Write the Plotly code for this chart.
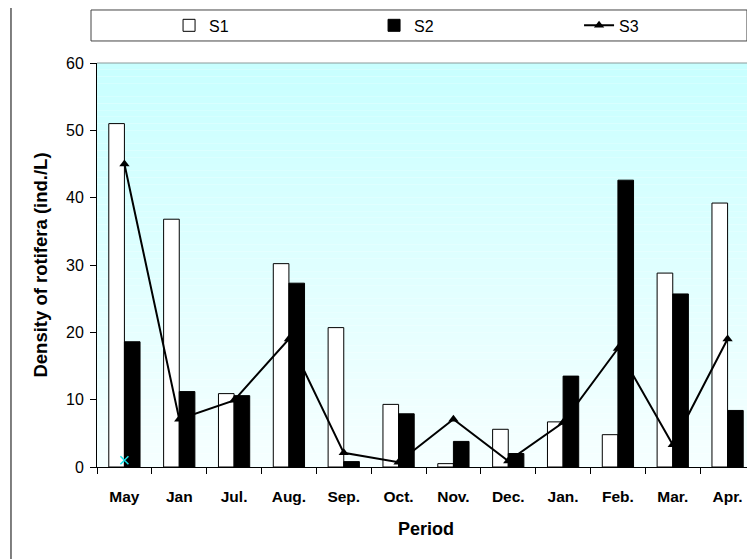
import plotly.graph_objects as go

periods = ["May", "Jan", "Jul.", "Aug.", "Sep.", "Oct.", "Nov.", "Dec.", "Jan.", "Feb.", "Mar.", "Apr."]
s1 = [51.0, 36.8, 10.9, 30.2, 20.7, 9.3, 0.5, 5.6, 6.7, 4.8, 28.8, 39.2]
s2 = [18.6, 11.2, 10.6, 27.3, 0.8, 7.9, 3.8, 2.0, 13.5, 42.6, 25.7, 8.4]
s3 = [45.0, 7.1, 9.9, 19.0, 2.1, 0.7, 7.1, 0.9, 6.6, 17.6, 3.3, 19.0]
stray_x = ["May"]
stray_y = [1.0]
y_ticks = [0, 10, 20, 30, 40, 50, 60]

FONT = "Liberation Sans, Arial, sans-serif"

fig = go.Figure()
fig.add_trace(go.Bar(name="S1", x=periods, y=s1,
                     marker=dict(color="white", line=dict(color="black", width=1))))
fig.add_trace(go.Bar(name="S2", x=periods, y=s2,
                     marker=dict(color="black", line=dict(color="black", width=1))))
fig.add_trace(go.Scatter(name="S3", x=periods, y=s3, mode="lines+markers",
                         line=dict(color="black", width=2),
                         marker=dict(symbol="triangle-up", size=9, color="black")))
fig.add_trace(go.Scatter(x=stray_x, y=stray_y, mode="markers", showlegend=False,
                         marker=dict(symbol="x-thin", size=8,
                                     line=dict(color="#19e0e8", width=1.5))))

# gradient background of the plot area
n = 60
top = (200, 255, 255)
bot = (246, 255, 255)
shapes = []
for i in range(n):
    t = i / (n - 1)
    c = tuple(round(bot[k] + (top[k] - bot[k]) * t) for k in range(3))
    shapes.append(dict(type="rect", xref="x domain", yref="y domain",
                       x0=0, x1=1, y0=i / n, y1=(i + 1) / n,
                       fillcolor="rgb(%d,%d,%d)" % c, line=dict(width=0), layer="below"))
# plot top border
shapes.append(dict(type="line", xref="x domain", yref="y domain", x0=0, x1=1, y0=1, y1=1,
                   line=dict(color="#8a9a9a", width=1)))
# outer chart frame
shapes.append(dict(type="rect", xref="paper", yref="paper", x0=-0.1307, x1=1.05,
                   y0=-0.25, y1=1.1386, line=dict(color="black", width=1)))
# legend frame
shapes.append(dict(type="rect", xref="paper", yref="paper", x0=-0.0091, x1=0.9878,
                   y0=1.0545, y1=1.1312, line=dict(color="#444444", width=1),
                   fillcolor="white", layer="below"))

# the page body adds an 8px offset; the figure size and margins compensate for it
fig.update_layout(
    width=747, height=551,
    margin=dict(l=89, r=0, t=55, b=92, autoexpand=False),
    paper_bgcolor="white",
    plot_bgcolor="rgba(0,0,0,0)",
    barmode="group", bargap=0.43, bargroupgap=0.0,
    font=dict(family=FONT, color="black", size=15),
    shapes=shapes,
    showlegend=True,
    legend=dict(orientation="h", x=0.1095, y=1.093, xanchor="left", yanchor="middle",
                bgcolor="rgba(0,0,0,0)", borderwidth=0, entrywidth=160,
                entrywidthmode="pixels", font=dict(size=16, family=FONT)),
    xaxis=dict(showgrid=False, showline=True, linecolor="black", linewidth=1,
               automargin=False, range=[-0.5, len(periods) - 0.5],
               ticks="outside", tickson="boundaries", ticklen=6, tickcolor="black",
               tickfont=dict(size=15.5, family=FONT, weight="bold"),
               ticklabelstandoff=15,
               title=dict(text="<b>Period</b>", font=dict(size=18, family=FONT), standoff=18)),
    yaxis=dict(range=[0, 60], tickvals=y_ticks, showgrid=False, zeroline=False,
               automargin=False,
               showline=True, linecolor="black", linewidth=1,
               ticks="outside", ticklen=6, tickcolor="black",
               ticklabelstandoff=3,
               tickfont=dict(size=16, family=FONT),
               title=dict(text="<b>Density of rotifera (ind./L)</b>",
                          font=dict(size=18.5, family=FONT), standoff=13)),
)

fig.write_html("out.html")
